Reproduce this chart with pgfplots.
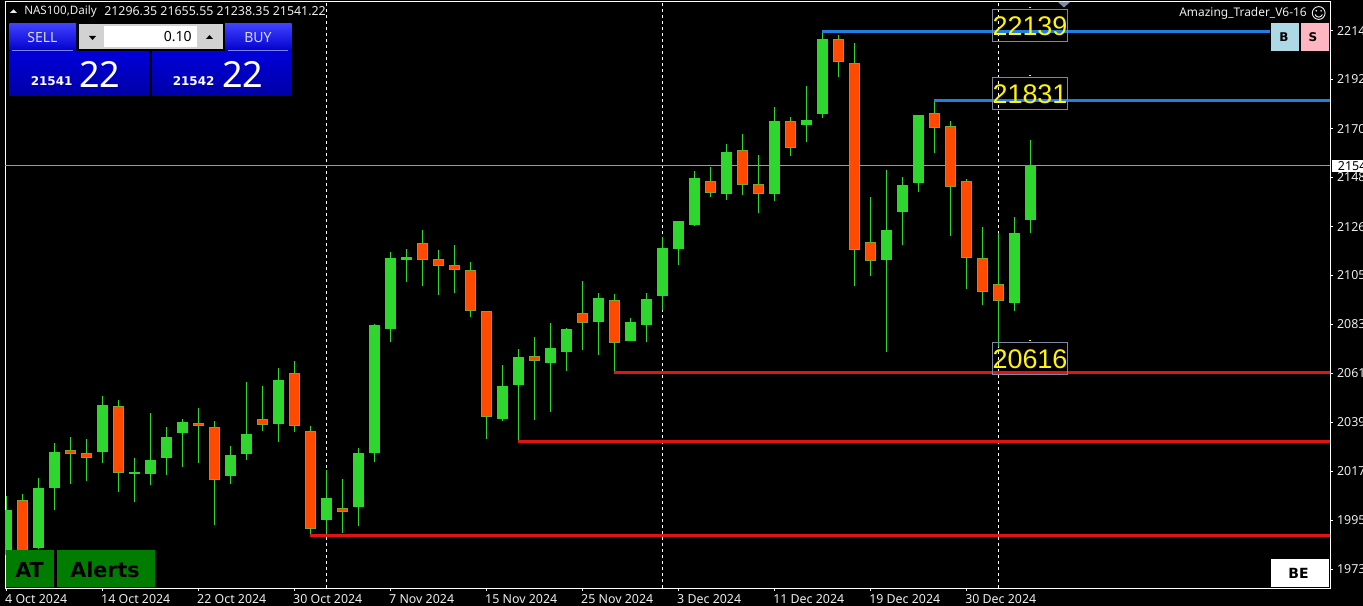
\documentclass[border=0pt]{standalone}
\usepackage{fontspec}
\usepackage{pgfplots}
\usepackage{pgfplotstable}
\pgfplotsset{compat=1.18}
\setmainfont{Noto Sans}
\newfontfamily\arialfont{Liberation Sans}
\newfontfamily\verdanafont{DejaVu Sans}

\definecolor{upgreen}{HTML}{2ED62E}
\definecolor{downred}{HTML}{FF4A00}
\definecolor{edgeolive}{HTML}{7FA52A}
\definecolor{lineblue}{HTML}{2080E0}
\definecolor{linered}{HTML}{E01414}
\definecolor{lastgrey}{HTML}{9A9A9A}
\definecolor{boxslate}{HTML}{7C88A4}
\definecolor{uitext}{HTML}{EDEDED}
\definecolor{atgreen}{HTML}{007C00}
\definecolor{btnblue}{HTML}{ADD8E6}
\definecolor{btnpink}{HTML}{FFB6C1}

% NAS100 daily candles: bar index, open, high, low, close
\pgfplotstableread{
i  o        h        l        c
0  19803    20066    19780    20004
2  19834    20145    19831    20102
3  20103    20304    20004    20262
6  20264    20512    20213    20472
8  20166    20237    20039    20173
9  20166    20438    20114    20225
10 20237    20375    20161    20329
11 20349    20408    20197    20395
14 20157    20289    20120    20249
15 20255    20575    20228    20343
17 20389    20637    20308    20584
20 19960    20182    19891    20057
22 20018    20279    19932    20258
23 20258    20833    20216    20829
24 20811    21155    20755    21127
25 21120    21168    21022    21132
31 20411    20651    20402    20556
32 20563    20721    20311    20686
34 20661    20838    20441    20725
35 20710    20816    20624    20810
37 20844    20970    20697    20949
39 20759    20859    20758    20842
40 20830    20970    20753    20945
41 20960    21223    20896    21173
42 21169    21295    21097    21293
43 21277    21517    21272    21485
45 21415    21637    21387    21600
48 21415    21803    21382    21738
50 21723    21895    21647    21744
51 21772    22145    21754    22105
55 21120    21521    20710    21252
56 21335    21491    21186    21454
57 21464    21766    21424    21766
63 20929    21311    20893    21239
64 21296.35 21655.55 21238.35 21541.22
}\upcandles
\pgfplotstableread{
i  o     h     l     c
1  20047 20075 19798 19816
4  20270 20329 20120 20255
5  20257 20320 20132 20234
7  20466 20493 20084 20167
12 20390 20457 20215 20380
13 20373 20402 19935 20136
16 20408 20557 20357 20382
18 20614 20668 20353 20377
19 20357 20378 19891 19918
21 20011 20142 19902 19996
26 21194 21253 21003 21120
27 21122 21164 20964 21094
28 21095 21186 20972 21076
29 21073 21110 20865 20893
30 20890 20891 20322 20417
33 20689 20775 20405 20670
36 20881 21025 20717 20839
38 20939 20966 20622 20750
44 21473 21535 21401 21419
46 21608 21681 21409 21452
47 21457 21589 21327 21412
49 21738 21757 21583 21617
52 22104 22123 21934 22001
53 21997 22089 21004 21162
54 21198 21401 21048 21113
58 21774 21837 21595 21707
59 21716 21738 21227 21446
60 21470 21480 20990 21127
61 21127 21268 20918 20975
62 21011 21239 20732 20935
}\downcandles

\tikzset{px/.style={x=0.75pt,y=-0.75pt}}
\newcommand{\uifont}{\fontsize{9.3pt}{10pt}\selectfont}

\begin{document}
\begin{tikzpicture}
\useasboundingbox (0,0) rectangle (1022.25pt,-454.5pt);
\clip (0,0) rectangle (1022.25pt,-454.5pt);
\fill[black] (0,0) rectangle (1022.25pt,-454.5pt);

\begin{axis}[
  at={(3.75pt,-441pt)}, anchor=south west,
  scale only axis, width=993.75pt, height=439.875pt,
  xmin=-0.08, xmax=82.73, ymin=19655.6, ymax=22272.3,
  axis line style={white, line width=0.75pt},
  tick style={white, line width=0.75pt},
  tick align=outside, major tick length=2.5pt,
  xtick pos=lower, ytick pos=upper,
  xtick={0,6,12,18,24,30,36,42,48,54,60},
  xticklabels={4 Oct 2024,14 Oct 2024,22 Oct 2024,30 Oct 2024,7 Nov 2024,15 Nov 2024,25 Nov 2024,3 Dec 2024,11 Dec 2024,19 Dec 2024,30 Dec 2024},
  ytick={22142,21924,21705,21487,21268,21050,20831,20613,20394,20176,19957,19739},
  yticklabels={2214,2192,2170,2148,2126,2105,2083,2061,2039,2017,1995,1973},
  yticklabel pos=right,
  xticklabel style={anchor=north west, inner sep=0pt, text=uitext, font=\uifont, xshift=-1pt, yshift=-2.2pt},
  yticklabel style={anchor=west, inner sep=0pt, text=uitext, font=\uifont, xshift=2.6pt},
]
% period separators
\addplot[white, line width=0.75pt, dash pattern=on 2.25pt off 2.25pt] coordinates {(20,19655.6) (20,22272.3)};
\addplot[white, line width=0.75pt, dash pattern=on 2.25pt off 2.25pt] coordinates {(41,19655.6) (41,22272.3)};
\addplot[white, line width=0.75pt, dash pattern=on 2.25pt off 2.25pt] coordinates {(62,19655.6) (62,22272.3)};
% last price
\addplot[lastgrey, line width=0.75pt] coordinates {(-0.08,21541.22) (82.73,21541.22)};
% wicks
\addplot[draw=none, mark=none, error bars/.cd, y dir=plus, y explicit, error mark=none,
  error bar style={upgreen, line width=0.75pt}]
  table[x=i, y=l, y error plus expr={\thisrow{h}-\thisrow{l}}] {\upcandles};
\addplot[draw=none, mark=none, error bars/.cd, y dir=plus, y explicit, error mark=none,
  error bar style={upgreen, line width=0.75pt}]
  table[x=i, y=l, y error plus expr={\thisrow{h}-\thisrow{l}}] {\downcandles};
% bodies
\addplot[draw=none, mark=none, error bars/.cd, y dir=plus, y explicit, error mark=none,
  error bar style={upgreen, line width=8.25pt}]
  table[x=i, y=o, y error plus expr={\thisrow{c}-\thisrow{o}}] {\upcandles};
\addplot[draw=none, mark=none, error bars/.cd, y dir=plus, y explicit, error mark=none,
  error bar style={edgeolive, line width=8.25pt}]
  table[x=i, y=c, y error plus expr={\thisrow{o}-\thisrow{c}}] {\downcandles};
\addplot[draw=none, mark=none, error bars/.cd, y dir=plus, y explicit, error mark=none,
  error bar style={downred, line width=6.75pt}]
  table[x=i, y expr={\thisrow{c}+4.46}, y error plus expr={max(\thisrow{o}-\thisrow{c}-8.92,0)}] {\downcandles};
% resistance lines
\addplot[lineblue, line width=2.4pt] coordinates {(51,22139) (79,22139)};
\addplot[lineblue, line width=2.4pt] coordinates {(58,21831) (82.73,21831)};
% support lines
\addplot[linered, line width=2.4pt] coordinates {(38,20616) (82.73,20616)};
\addplot[linered, line width=2.4pt] coordinates {(32,20311) (82.73,20311)};
\addplot[linered, line width=2.4pt] coordinates {(19,19891) (82.73,19891)};
\end{axis}

\begin{scope}[px]
% level labels
\foreach \ytop/\txt in {9.3/22139,77.3/21831,342.3/20616}{
  \draw[boxslate, line width=0.75pt] (992.5,\ytop) rectangle (1067.7,\ytop+32);
  \fill[yellow!90!white] (1029,\ytop-2.6) rectangle (1031,\ytop-1);
  \node[inner sep=0pt, text=yellow!95!white, font=\arialfont\fontsize{20.2pt}{20pt}\selectfont] at (1030,\ytop+16.5) {\txt};
}
\fill[boxslate] (1058,2) -- (1070,2) -- (1064,7.5) -- cycle;

% header text
\fill[uitext] (10,13) -- (17,13) -- (13.5,9.5) -- cycle;
\node[anchor=west, inner sep=0pt, text=uitext, font=\fontsize{8.7pt}{10pt}\selectfont] at (24,11.5) {NAS100,Daily};
\node[anchor=west, inner sep=0pt, text=uitext, font=\uifont] at (104,11.5) {21296.35 21655.55 21238.35 21541.22};
\node[anchor=east, inner sep=0pt, text=uitext, font=\fontsize{8.95pt}{10pt}\selectfont] at (1307,13) {Amazing\_Trader\_V6-16};
% smiley
\draw[uitext, line width=0.7pt] (1318.7,13) circle[radius=6.4];
\fill[uitext] (1316.3,10.8) circle[radius=0.9] (1321.1,10.8) circle[radius=0.9];
\draw[uitext, line width=0.7pt] (1315,14.5) .. controls (1316.5,18) and (1321,18) .. (1322.4,14.5);

% B and S buttons
\fill[btnblue] (1271,23) rectangle (1299,51);
\fill[btnpink] (1301,23) rectangle (1329,51);
\node[inner sep=0pt, font=\verdanafont\bfseries\fontsize{9pt}{9pt}\selectfont, text=black] at (1284,37) {B};
\node[inner sep=0pt, font=\verdanafont\bfseries\fontsize{9pt}{9pt}\selectfont, text=black] at (1313,37) {S};

% last price tag
\fill[white] (1332,160) rectangle (1363,171.7);
\node[anchor=west, inner sep=0pt, text=black, font=\uifont] at (1337.7,165.8) {2154};

% one click trading panel
\shade[top color=blue!75!white, bottom color=blue!80!black] (9.3,24) rectangle (76,51);
\shade[top color=blue!75!white, bottom color=blue!80!black] (225,24) rectangle (291.5,51);
\shade[top color=blue!85!black, bottom color=blue!65!black] (9.3,52) rectangle (149,96);
\shade[top color=blue!85!black, bottom color=blue!65!black] (152,52) rectangle (291.5,96);
\draw[blue!50!white, line width=0.5pt] (12,50.5) -- (73,50.5);
\draw[blue!50!white, line width=0.5pt] (228,50.5) -- (288,50.5);
\fill[gray!35] (79,24) rectangle (223,49);
\fill[white] (104,26) rectangle (197,47);
\fill[black] (89,36) -- (96,36) -- (92.5,40) -- cycle;
\fill[black] (206,39) -- (213,39) -- (209.5,35) -- cycle;
\node[anchor=east, inner sep=0pt, text=black, font=\fontsize{10.5pt}{10.5pt}\selectfont] at (192,36.5) {0.10};
\node[inner sep=0pt, text=blue!15!white, font=\fontsize{10.5pt}{10.5pt}\selectfont] at (42.5,37.5) {SELL};
\node[inner sep=0pt, text=blue!15!white, font=\fontsize{10.5pt}{10.5pt}\selectfont] at (258,37.5) {BUY};
\node[anchor=west, inner sep=0pt, text=white, font=\verdanafont\bfseries\fontsize{9pt}{9pt}\selectfont] at (30.5,81.5) {21541};
\node[anchor=west, inner sep=0pt, text=white, font=\fontsize{27pt}{27pt}\selectfont] at (79,74) {22};
\node[anchor=west, inner sep=0pt, text=white, font=\verdanafont\bfseries\fontsize{9pt}{9pt}\selectfont] at (172.5,81.5) {21542};
\node[anchor=west, inner sep=0pt, text=white, font=\fontsize{27pt}{27pt}\selectfont] at (222,74) {22};

% bottom buttons
\fill[atgreen] (6,550) rectangle (54,587);
\fill[atgreen] (57,550) rectangle (155,587);
\node[inner sep=0pt, text=black, font=\verdanafont\bfseries\fontsize{15.5pt}{15.5pt}\selectfont] at (29.5,569.5) {AT};
\node[inner sep=0pt, text=black, font=\verdanafont\bfseries\fontsize{15.5pt}{15.5pt}\selectfont] at (105,569.5) {Alerts};
\fill[white] (1271,559) rectangle (1329,587);
\node[inner sep=0pt, text=black, font=\verdanafont\bfseries\fontsize{10.5pt}{10.5pt}\selectfont] at (1298.5,573) {BE};
\end{scope}
\end{tikzpicture}
\end{document}
